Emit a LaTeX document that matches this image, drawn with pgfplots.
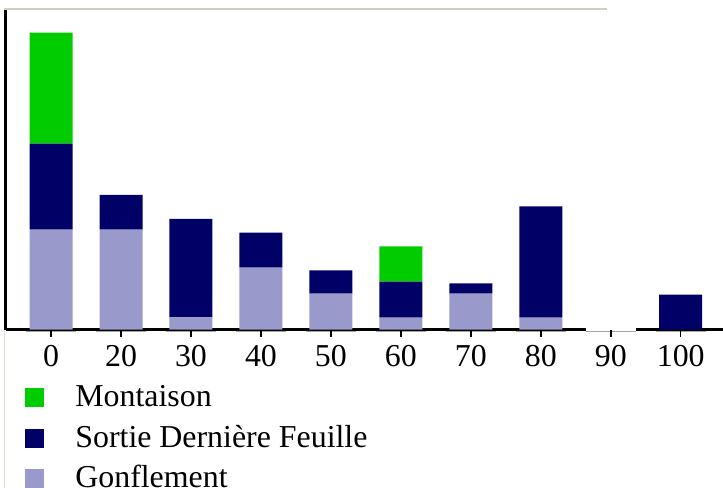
\documentclass[border=0pt]{standalone}
\usepackage{pgfplots}
\pgfplotsset{compat=1.18}
\usepackage{fontspec}
\setmainfont{Liberation Serif}
\definecolor{mont}{RGB}{0,204,0}
\definecolor{sdf}{RGB}{0,0,102}
\definecolor{gonf}{RGB}{153,153,204}
\definecolor{topline}{RGB}{208,206,188}
\begin{document}
\begin{tikzpicture}
\draw[topline!70, line width=1bp] (4bp,0bp) -- (4bp,480bp);
\begin{axis}[
  name=ax, clip=false,
  at={(5.8bp,158.3bp)}, anchor=south west,
  scale only axis, width=717.2bp, height=320.7bp,
  xmin=-0.647, xmax=9.604, ymin=0, ymax=320.7,
  ybar stacked, bar width=43bp,
  axis x line*=bottom, axis y line*=left,
  axis line style={line width=3bp, black, -},
  ytick=\empty,
  xtick={0,...,9},
  xticklabels={0,20,30,40,50,60,70,80,90,100},
  tick align=outside,
  x tick style={line width=1.5bp, black, /pgfplots/major tick length=7bp},
  xticklabel style={font=\fontsize{32}{38}\selectfont, anchor=north, inner sep=0pt, text height=21bp, text depth=0pt, yshift=-11bp},
  reverse legend,
  legend cell align=left,
  legend style={at={(0.027,-0.18)}, anchor=north west, draw=none, fill=none, inner sep=0pt, row sep=21bp, column sep=31bp, font=\fontsize{32}{38}\selectfont, nodes={inner sep=0pt, text height=19bp, text depth=0pt}},
  legend image code/.code={\fill[#1] (0bp,-10bp) rectangle (19bp,9bp);},
  after end axis/.code={
    \draw[white, line width=3.4bp] ([xshift=-25bp]axis cs:8,0) -- ++(50bp,0);
    \foreach \i in {0,...,9}{
      \draw[black!35, line width=1.2bp] ([xshift=-25bp,yshift=-2bp]axis cs:\i,0) -- ++(50bp,0);
      \draw[black, line width=1.5bp] ([yshift=-0.5bp]axis cs:\i,0) -- ++(0,-6bp);
    }
  },
]
\addplot[fill=gonf, draw=none] coordinates {(0,100) (1,100) (2,12.3) (3,62) (4,36) (5,12) (6,36) (7,12) (8,0) (9,0)};
\addplot[fill=sdf, draw=none] coordinates {(0,86) (1,34.7) (2,98.4) (3,35) (4,23.3) (5,36) (6,10.4) (7,111.3) (8,0) (9,35)};
\addplot[fill=mont, draw=none] coordinates {(0,111) (1,0) (2,0) (3,0) (4,0) (5,35.3) (6,0) (7,0) (8,0) (9,0)};
\legend{Gonflement, Sortie Dernière Feuille, Montaison}
\end{axis}
\draw[topline, line width=2bp] (4bp,479bp) -- (607bp,479bp);
\pgfresetboundingbox
\path[use as bounding box] (0,0) rectangle (723bp,488bp);
\end{tikzpicture}
\end{document}
